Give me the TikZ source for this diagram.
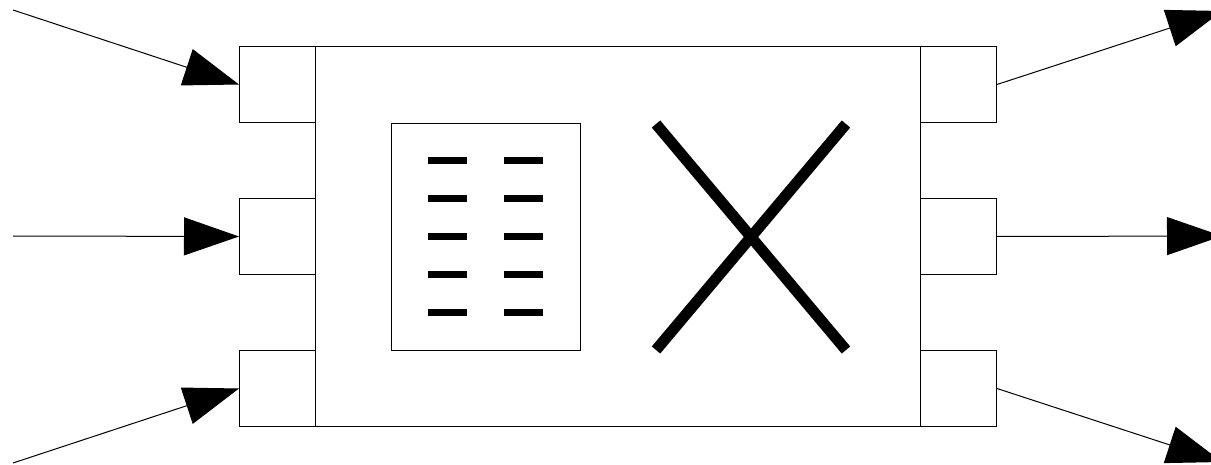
\documentclass[tikz,border=0pt]{standalone}
\usetikzlibrary{arrows.meta}
\begin{document}
\begin{tikzpicture}[x=1pt,y=-1pt,
  port/.style={draw,line width=1pt,minimum width=76pt,minimum height=76pt,inner sep=0pt,anchor=north west},
  conn/.style={line width=1pt,-{Triangle[length=55pt,width=38pt]}},
  dashmark/.style={line width=7pt},
  xbar/.style={line width=11pt}]
\useasboundingbox (0,0) rectangle (1211,465);
\begin{scope}
\clip (0,0) rectangle (1211,465);
% main body
\node[draw,line width=1pt,minimum width=605pt,minimum height=380pt,inner sep=0pt,anchor=north west] (main) at (315,46) {};
% ports
\node[port] (l1) at (239,46) {};
\node[port] (l2) at (239,198) {};
\node[port] (l3) at (239,350) {};
\node[port] (r1) at (920,46) {};
\node[port] (r2) at (920,198) {};
\node[port] (r3) at (920,350) {};
% inner rectangle
\node[draw,line width=1pt,minimum width=189pt,minimum height=227pt,inner sep=0pt,anchor=north west] (inner) at (391,123) {};
% dashes
\foreach \y in {161,199,237,275,313}{
  \draw[dashmark] (428,\y) -- (467,\y);
  \draw[dashmark] (504,\y) -- (543,\y);
}
% X mark
\draw[xbar] (656,124) -- (846,350);
\draw[xbar] (846,124) -- (656,350);
% free ends
\coordinate (a1) at (13,10);
\coordinate (a2) at (13,236);
\coordinate (a3) at (13,463);
\coordinate (b1) at (1222,11);
\coordinate (b2) at (1222,236);
\coordinate (b3) at (1222,462);
% connectors
\draw[conn] (a1) -- (l1.west);
\draw[conn] (a2) -- (l2.west);
\draw[conn] (a3) -- (l3.west);
\draw[conn] (r1.east) -- (b1);
\draw[conn] (r2.east) -- (b2);
\draw[conn] (r3.east) -- (b3);
\end{scope}
\end{tikzpicture}
\end{document}
